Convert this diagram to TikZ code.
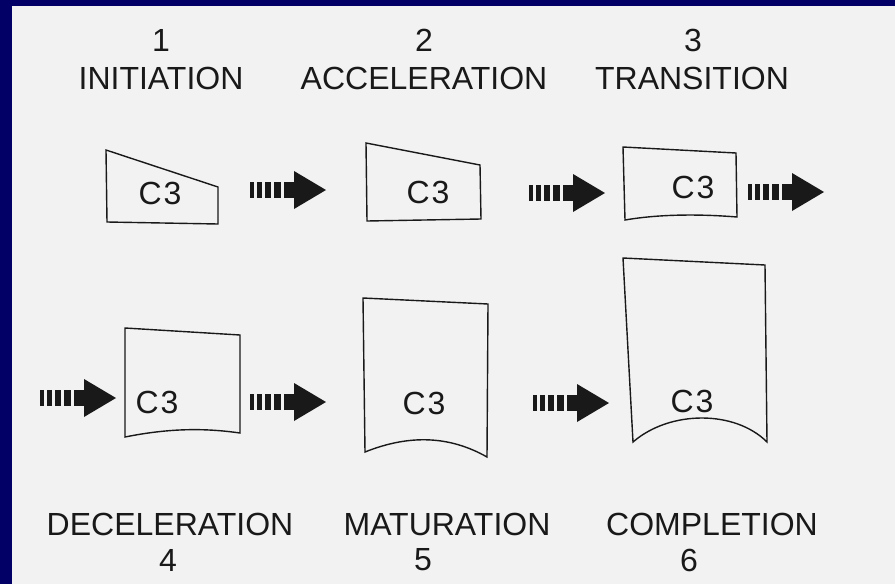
\documentclass[tikz,border=0pt]{standalone}
\usepackage{fontspec}
\setmainfont{Liberation Sans}
\definecolor{frameblue}{RGB}{2,0,102}
\definecolor{paper}{RGB}{243,242,242}
\definecolor{ink}{RGB}{25,25,25}
\newcommand{\cthree}{C\kern2pt 3}
\tikzset{
  lbl/.style={font=\fontsize{32}{32}\selectfont, text=ink, inner sep=0pt},
  ctext/.style={font=\fontsize{32}{32}\selectfont, text=ink, inner sep=0pt},
  outline/.style={draw=ink, line width=1.4pt, line join=miter},
  fatarrow/.pic={
    \fill[ink] (0,-8) rectangle (4,8);
    \fill[ink] (7,-8) rectangle (12,8);
    \fill[ink] (15,-8) rectangle (21,8);
    \fill[ink] (24,-8) rectangle (31,8);
    \fill[ink] (34,-8) rectangle (46,8);
    \fill[ink] (44,-19) -- (76,0) -- (44,19) -- cycle;
  }
}
\begin{document}
\begin{tikzpicture}[x=1pt,y=-1pt]
\useasboundingbox (0,0) rectangle (895,584);
\fill[frameblue] (0,0) rectangle (895,584);
\fill[paper] (12,6) rectangle (895,584);

% top labels
\node[lbl] (n1) at (161,40) {1};
\node[lbl] (l1) at (161,78) {INITIATION};
\node[lbl] (n2) at (424,40) {2};
\node[lbl] (l2) at (424,78) {ACCELERATION};
\node[lbl] (n3) at (693,40) {3};
\node[lbl] (l3) at (692,78) {TRANSITION};

% row 1 shapes
\draw[outline] (106,150) -- (218,187) -- (218,224) -- (107,222) -- cycle;
\node[ctext] (c1) at (160,193) {\cthree};
\draw[outline] (366,143) -- (480,165) -- (481,219) -- (367,221) -- cycle;
\node[ctext] (c2) at (428,192) {\cthree};
\draw[outline] (623,147) -- (736,153) -- (737,217) .. controls (700,214) and (660,214) .. (625,220) -- cycle;
\node[ctext] (c3) at (693,187) {\cthree};

\pic at (250,190) {fatarrow};
\pic at (529,193) {fatarrow};
\pic at (748,192) {fatarrow};

% row 2 shapes
\pic at (40,398) {fatarrow};
\draw[outline] (125,328) -- (240,335) -- (240,433) .. controls (205,428) and (170,428) .. (125,437) -- cycle;
\node[ctext] (c4) at (157,402) {\cthree};
\pic at (250,402) {fatarrow};
\draw[outline] (363,298) -- (488,304) -- (487,457) .. controls (450,436) and (410,434) .. (365,452) -- cycle;
\node[ctext] (c5) at (424,403) {\cthree};
\pic at (533,403) {fatarrow};
\draw[outline] (623,258) -- (765,265) -- (767,442) .. controls (735,410) and (670,410) .. (633,442) -- cycle;
\node[ctext] (c6) at (692,401) {\cthree};

% bottom labels
\node[lbl] (l4) at (170,524) {DECELERATION};
\node[lbl] (n4) at (168,560) {4};
\node[lbl] (l5) at (447,524) {MATURATION};
\node[lbl] (n5) at (423,560) {5};
\node[lbl] (l6) at (712,524) {COMPLETION};
\node[lbl] (n6) at (689,560) {6};
\end{tikzpicture}
\end{document}
